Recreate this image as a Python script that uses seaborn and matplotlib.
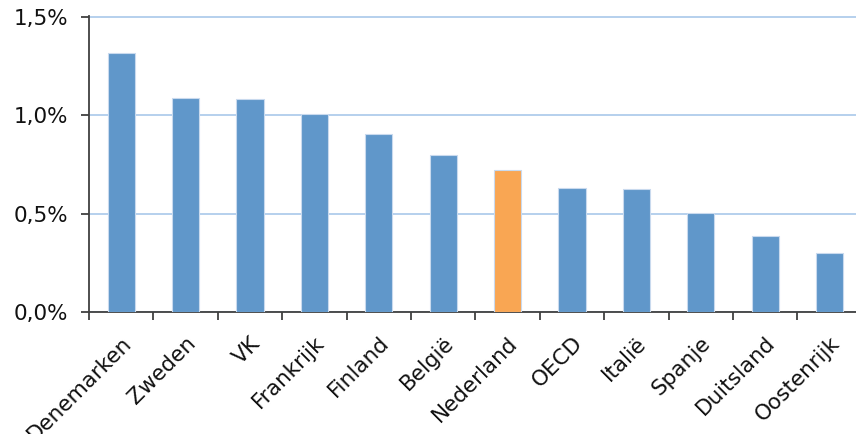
import numpy as np
import pandas as pd
import matplotlib
matplotlib.use("Agg")
import matplotlib.pyplot as plt
import seaborn as sns
from matplotlib.ticker import FuncFormatter, FixedLocator

landen = ["Denemarken", "Zweden", "VK", "Frankrijk", "Finland", "België",
          "Nederland", "OECD", "Italië", "Spanje", "Duitsland", "Oostenrijk"]
waarden = [1.315, 1.088, 1.083, 1.005, 0.903, 0.797,
           0.722, 0.630, 0.625, 0.502, 0.388, 0.300]
gemarkeerd = "Nederland"

blauw = "#6097CA"
oranje = "#F9A653"

df = pd.DataFrame({"land": landen, "waarde": waarden})
kleuren = {l: (oranje if l == gemarkeerd else blauw) for l in landen}

sns.set_style("white")
plt.rcParams["font.family"] = ["DejaVu Sans"]

fig = plt.figure(figsize=(8.56, 4.34), dpi=100)
ax = fig.add_axes([89 / 856, 1 - 312 / 434, 767 / 856, 296 / 434])

sns.barplot(data=df, x="land", y="waarde", hue="land", palette=kleuren,
            width=0.42, legend=False, ax=ax, edgecolor="#C9DAEE", linewidth=0.8,
            saturation=1, zorder=3)

ax.set_ylim(0, 1.505)
ax.set_xlim(-0.5, 11.41)
ax.set_yticks([0, 0.5, 1.0, 1.5])
ax.yaxis.set_major_formatter(FuncFormatter(lambda v, p: f"{v:.1f}%".replace(".", ",")))
ax.grid(axis="y", color="#A9C8EA", linewidth=1.2, zorder=0)
ax.set_axisbelow(True)

for s in ["top", "right"]:
    ax.spines[s].set_visible(False)
for s in ["left", "bottom"]:
    ax.spines[s].set_color("#404040")
    ax.spines[s].set_linewidth(1.3)

ax.set_xticks(range(len(landen)))
ax.set_xticklabels(landen, rotation=45, ha="right", rotation_mode="anchor", fontsize=15.5)
ax.xaxis.set_minor_locator(FixedLocator(np.arange(len(landen)) - 0.5))
ax.tick_params(axis="x", which="major", bottom=True, length=0, pad=15, labelcolor="#111111")
ax.tick_params(axis="x", which="minor", bottom=True, length=6, width=1.3, color="#404040", direction="out")
ax.tick_params(axis="y", left=True, length=6, width=1.3, color="#404040", direction="out",
               labelsize=15.5, pad=9, labelcolor="#111111")

ax.set_xlabel("")
ax.set_ylabel("")

fig.savefig("out.png", dpi=100)
